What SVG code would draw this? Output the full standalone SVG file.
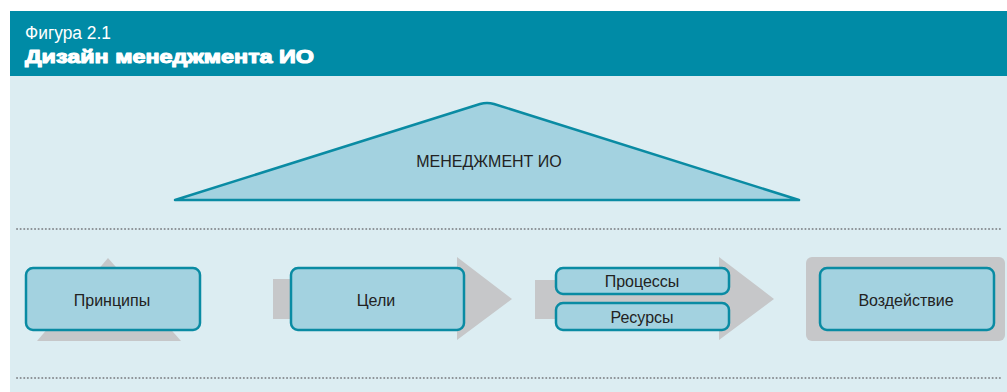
<svg xmlns="http://www.w3.org/2000/svg" width="1007" height="392" viewBox="0 0 1007 392">
  <defs>
    <style>
      .hdr { fill: #008ba6; }
      .panel { fill: #dcedf2; }
      .dots { stroke: #8a8f94; stroke-width: 2; stroke-dasharray: 0.1 3.5; stroke-linecap: round; fill: none; }
      .shade { fill: #c6c7c9; }
      .node { fill: #a3d2e0; stroke: #0a8ba3; stroke-width: 2.5; }
      .lbl { font-family: "Liberation Sans", Arial, sans-serif; font-size: 16px; fill: #222; text-anchor: middle; }
      .cap { font-family: "Liberation Sans", Arial, sans-serif; fill: #ffffff; }
    </style>
  </defs>

  <!-- header band -->
  <rect class="hdr" x="10" y="11" width="997" height="65"/>
  <text class="cap" x="25" y="39" font-size="18" font-family="Roboto, 'Liberation Sans', sans-serif" font-weight="300" textLength="86" lengthAdjust="spacingAndGlyphs">Фигура 2.1</text>
  <text class="cap" x="25" y="63" font-size="18.5" font-weight="900" stroke="#ffffff" stroke-width="1.1" stroke-linejoin="round" textLength="289" lengthAdjust="spacingAndGlyphs">Дизайн менеджмента ИО</text>

  <!-- content panel -->
  <rect class="panel" x="10" y="76" width="997" height="316"/>
  <line class="dots" x1="17" y1="229" x2="1002" y2="229"/>
  <line class="dots" x1="17" y1="378" x2="1002" y2="378"/>

  <!-- apex triangle -->
  <g id="management">
    <path class="node" stroke-linejoin="round" d="M175,200 L480,104 Q487,102 494,104 L799,200 Z"/>
    <text class="lbl" x="489" y="167">МЕНЕДЖМЕНТ ИО</text>
  </g>

  <!-- grey backdrops -->
  <g id="connectors">
    <polygon class="shade" points="108,258 181,341 37,341"/>
    <polygon class="shade" points="273,279 457,279 457,257 512,299 457,340 457,319 273,319"/>
    <polygon class="shade" points="535,280 719,280 719,257 774,299 719,340 719,319 535,319"/>
    <rect class="shade" x="806" y="257" width="199" height="84" rx="6"/>
  </g>

  <g id="principles">
    <rect class="node" x="26" y="268" width="174" height="62" rx="7"/>
    <text class="lbl" x="112" y="306">Принципы</text>
  </g>

  <g id="goals">
    <rect class="node" x="291" y="268" width="173" height="62" rx="7"/>
    <text class="lbl" x="376" y="306">Цели</text>
  </g>

  <g id="processes">
    <rect class="node" x="556" y="268" width="173" height="26" rx="7"/>
    <text class="lbl" x="642" y="287">Процессы</text>
  </g>

  <g id="resources">
    <rect class="node" x="556" y="303" width="173" height="27" rx="7"/>
    <text class="lbl" x="642" y="322.5">Ресурсы</text>
  </g>

  <g id="impact">
    <rect class="node" x="820" y="268" width="174" height="62" rx="7"/>
    <text class="lbl" x="906" y="306">Воздействие</text>
  </g>
</svg>
